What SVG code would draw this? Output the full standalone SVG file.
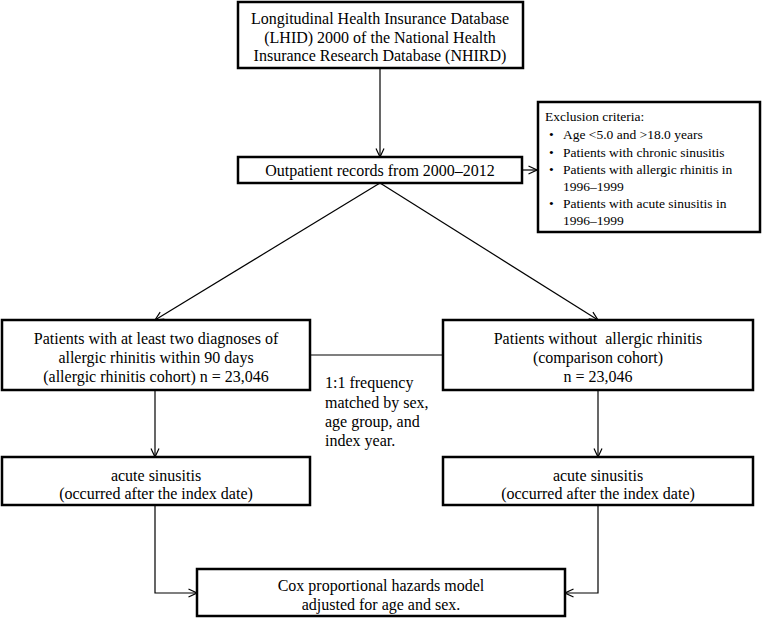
<svg xmlns="http://www.w3.org/2000/svg" width="763" height="618" viewBox="0 0 763 618">
<style>
.box{fill:#fff;stroke:#000;stroke-width:2.5}
.t{font-family:"Liberation Serif","Times New Roman",serif;font-size:16px;fill:#000;text-anchor:middle;dominant-baseline:central}
.s{font-family:"Liberation Serif","Times New Roman",serif;font-size:13.5px;fill:#000;dominant-baseline:central}
.m{font-family:"Liberation Serif","Times New Roman",serif;font-size:16px;fill:#000;dominant-baseline:central}
.c{fill:none;stroke:#000;stroke-width:1.2}
</style>
<defs>
<marker id="ah" viewBox="0 0 10 10" refX="9.5" refY="5" markerWidth="10" markerHeight="10" markerUnits="userSpaceOnUse" orient="auto">
<path d="M1,1 L9.5,5 L1,9" fill="none" stroke="#000" stroke-width="1.2"/>
</marker>
</defs>
<g id="connectors">
<line class="c" x1="380" y1="68" x2="380" y2="157" marker-end="url(#ah)"/>
<line class="c" x1="522" y1="170" x2="537" y2="170" marker-end="url(#ah)"/>
<line class="c" x1="380" y1="183" x2="155" y2="320" marker-end="url(#ah)"/>
<line class="c" x1="380" y1="183" x2="598" y2="320" marker-end="url(#ah)"/>
<line class="c" x1="310" y1="355" x2="443" y2="355"/>
<line class="c" x1="155" y1="390" x2="155" y2="457" marker-end="url(#ah)"/>
<line class="c" x1="598" y1="390" x2="598" y2="457" marker-end="url(#ah)"/>
<polyline class="c" points="155,505 155,593 197,593" marker-end="url(#ah)"/>
<polyline class="c" points="598,505 598,593 565,593" marker-end="url(#ah)"/>
</g>
<g id="lhid">
<rect class="box" x="238" y="2" width="285" height="66"/>
<text class="t" x="380" y="18">Longitudinal Health Insurance Database</text>
<text class="t" x="380" y="37">(LHID) 2000 of the National Health</text>
<text class="t" x="380" y="55">Insurance Research Database (NHIRD)</text>
</g>
<g id="outpatient">
<rect class="box" x="238" y="157" width="284" height="26"/>
<text class="t" x="380" y="170">Outpatient records from 2000–2012</text>
</g>
<g id="exclusion">
<rect class="box" x="538" y="102" width="222" height="130"/>
<text class="s" x="545" y="116">Exclusion criteria:</text>
<text class="s" x="549" y="134">•</text><text class="s" x="563" y="134">Age &lt;5.0 and &gt;18.0 years</text>
<text class="s" x="549" y="152">•</text><text class="s" x="563" y="152">Patients with chronic sinusitis</text>
<text class="s" x="549" y="169">•</text><text class="s" x="563" y="169">Patients with allergic rhinitis in</text>
<text class="s" x="563" y="186">1996–1999</text>
<text class="s" x="549" y="203">•</text><text class="s" x="563" y="203">Patients with acute sinusitis in</text>
<text class="s" x="563" y="220">1996–1999</text>
</g>
<g id="ar-cohort">
<rect class="box" x="2" y="320" width="308" height="70"/>
<text class="t" x="156" y="338">Patients with at least two diagnoses of</text>
<text class="t" x="156" y="357">allergic rhinitis within 90 days</text>
<text class="t" x="156" y="376">(allergic rhinitis cohort) n = 23,046</text>
</g>
<g id="comparison-cohort">
<rect class="box" x="443" y="320" width="310" height="70"/>
<text class="t" x="598" y="338" xml:space="preserve">Patients without  allergic rhinitis</text>
<text class="t" x="598" y="357">(comparison cohort)</text>
<text class="t" x="598" y="376">n = 23,046</text>
</g>
<g id="matching-label">
<text class="m" x="325" y="382">1:1 frequency</text>
<text class="m" x="325" y="402">matched by sex,</text>
<text class="m" x="325" y="421">age group, and</text>
<text class="m" x="325" y="440">index year.</text>
</g>
<g id="ar-outcome">
<rect class="box" x="2" y="457" width="308" height="48"/>
<text class="t" x="156" y="475">acute sinusitis</text>
<text class="t" x="156" y="493">(occurred after the index date)</text>
</g>
<g id="comparison-outcome">
<rect class="box" x="443" y="457" width="310" height="48"/>
<text class="t" x="598" y="475">acute sinusitis</text>
<text class="t" x="598" y="493">(occurred after the index date)</text>
</g>
<g id="cox">
<rect class="box" x="197" y="569" width="368" height="47"/>
<text class="t" x="381" y="585">Cox proportional hazards model</text>
<text class="t" x="381" y="604">adjusted for age and sex.</text>
</g>
</svg>
